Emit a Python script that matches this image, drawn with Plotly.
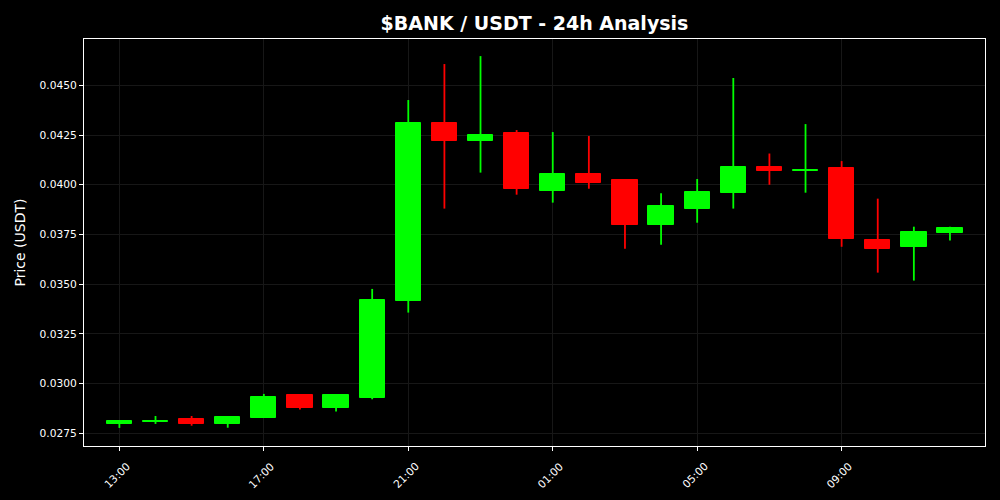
import plotly.graph_objects as go
import pandas as pd

times = pd.date_range("2025-01-01 13:00", periods=24, freq="h")
opens  = [0.02797, 0.02808, 0.02822, 0.02798, 0.02828, 0.02943, 0.02879, 0.02929,
          0.03417, 0.04310, 0.04222, 0.04260, 0.03969, 0.04054, 0.04024, 0.03798,
          0.03878, 0.03960, 0.04091, 0.04070, 0.04084, 0.03722, 0.03687, 0.03757]
highs  = [0.02815, 0.02837, 0.02837, 0.02837, 0.02948, 0.02946, 0.02946, 0.03476,
          0.04426, 0.04607, 0.04647, 0.04275, 0.04265, 0.04245, 0.04027, 0.03957,
          0.04029, 0.04537, 0.04157, 0.04305, 0.04119, 0.03930, 0.03789, 0.03789]
lows   = [0.02777, 0.02797, 0.02788, 0.02778, 0.02828, 0.02869, 0.02859, 0.02921,
          0.03357, 0.03880, 0.04061, 0.03950, 0.03910, 0.03980, 0.03678, 0.03698,
          0.03809, 0.03880, 0.04000, 0.03960, 0.03688, 0.03558, 0.03518, 0.03719]
closes = [0.02810, 0.02812, 0.02798, 0.02833, 0.02933, 0.02879, 0.02943, 0.03420,
          0.04309, 0.04219, 0.04249, 0.03979, 0.04054, 0.04009, 0.03798, 0.03893,
          0.03963, 0.04091, 0.04070, 0.04073, 0.03727, 0.03677, 0.03762, 0.03784]

tick_times = pd.date_range("2025-01-01 13:00", periods=6, freq="4h")
tick_labels = ["13:00", "17:00", "21:00", "01:00", "05:00", "09:00"]

UP, DOWN = "#00ff00", "#ff0000"
colors = [UP if c >= o else DOWN for o, c in zip(opens, closes)]
hour_ms = 3600 * 1000

fig = go.Figure()

# wicks
for col in (UP, DOWN):
    xs, ys = [], []
    for t, h, l, c in zip(times, highs, lows, colors):
        if c == col:
            xs += [t, t, None]
            ys += [l, h, None]
    fig.add_trace(go.Scatter(x=xs, y=ys, mode="lines", line=dict(color=col, width=1.8),
                             hoverinfo="skip", showlegend=False))

# bodies
bases = [min(o, c) for o, c in zip(opens, closes)]
heights = [max(abs(c - o), 0.000005) for o, c in zip(opens, closes)]
fig.add_trace(go.Bar(x=times, y=heights, base=bases, width=0.7 * hour_ms,
                     marker=dict(color=colors, line=dict(color=colors, width=1)),
                     showlegend=False))

# rotated, centred tick labels
for t, lab in zip(tick_times, tick_labels):
    fig.add_annotation(x=t, xref="x", y=0, yref="paper", text=lab, showarrow=False,
                       textangle=-45, xanchor="center", yanchor="top", yshift=-11,
                       xshift=-2, font=dict(size=10.67, color="white"))

x0 = pd.Timestamp("2025-01-01 13:00") - pd.Timedelta(hours=0.98)
x1 = pd.Timestamp("2025-01-01 13:00") + pd.Timedelta(hours=23.97)

fig.update_layout(
    width=1000, height=500,
    paper_bgcolor="#000000", plot_bgcolor="#000000",
    margin=dict(l=84, r=15, t=39, b=54),
    font=dict(family="DejaVu Sans", color="white", size=10.67),
    title=dict(text="<b>$BANK / USDT - 24h Analysis</b>", x=0.5345, xanchor="center",
               y=0.954, yanchor="middle", font=dict(size=19, color="white")),
    bargap=0,
    showlegend=False,
)
fig.update_xaxes(
    type="date", range=[x0, x1], tickmode="array", tickvals=tick_times,
    showticklabels=False,
    showgrid=True, gridcolor="#171717", gridwidth=1,
    showline=True, linecolor="white", linewidth=1, mirror=True,
    ticks="outside", tickcolor="white", ticklen=4, zeroline=False,
)
fig.update_yaxes(
    range=[0.02686, 0.04733], dtick=0.0025, tick0=0.0275, tickformat=".4f",
    title=dict(text="Price (USDT)", font=dict(size=14, color="white"), standoff=10),
    showgrid=True, gridcolor="#171717", gridwidth=1,
    showline=True, linecolor="white", linewidth=1, mirror=True,
    ticks="outside", tickcolor="white", ticklen=4,
    tickfont=dict(size=10.67, color="white"), zeroline=False,
)

fig.write_html("out.html", config={"displayModeBar": False},
               post_script="document.body.style.margin='0';document.body.style.background='black';")
